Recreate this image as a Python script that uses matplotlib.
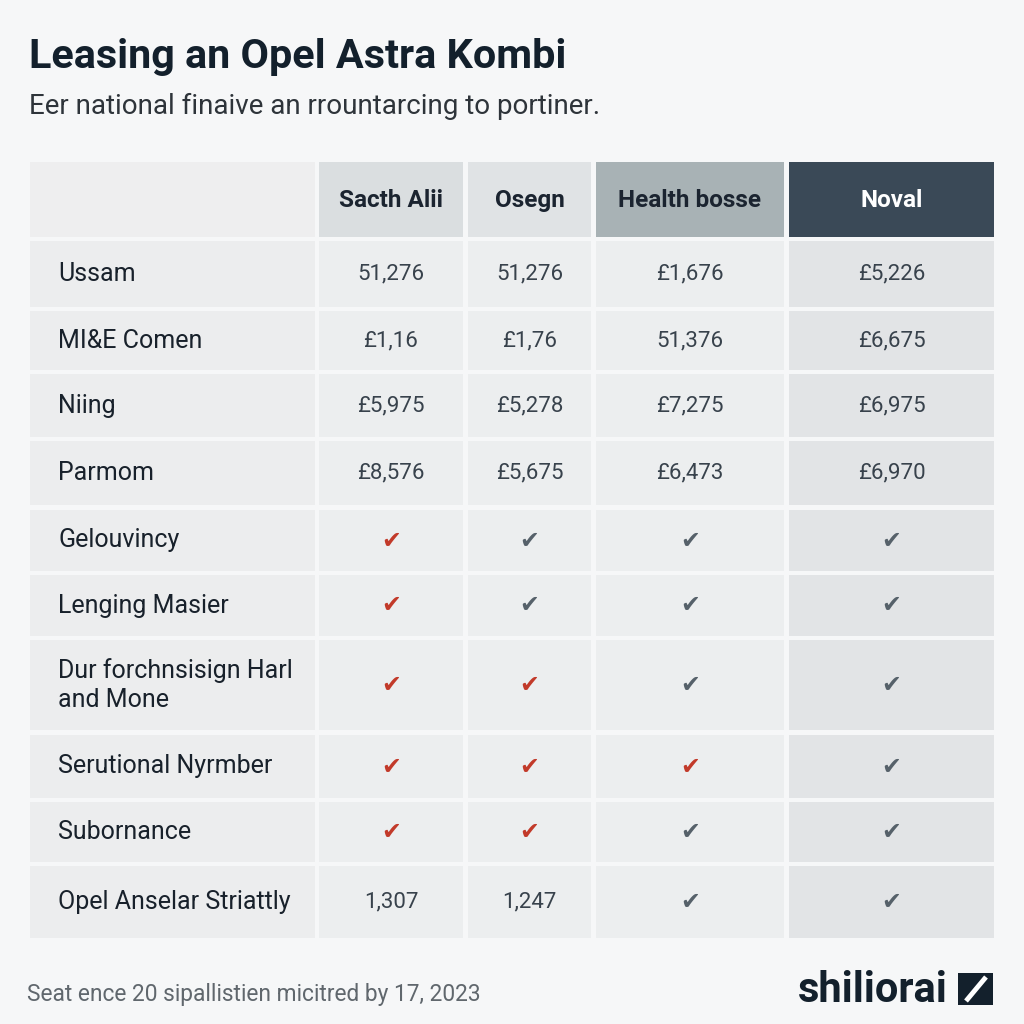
import matplotlib
matplotlib.use("Agg")
import matplotlib.pyplot as plt
from matplotlib.patches import Rectangle

# ---------------- data ----------------
title = "Leasing an Opel Astra Kombi"
subtitle = "Eer national finaive an rrountarcing to portiner."
footnote = "Seat ence 20 sipallistien micitred by 17, 2023"
brand = "shiliorai"

columns = ["Sacth Alii", "Osegn", "Health bosse", "Noval"]
row_labels = [
    "Ussam",
    "MI&E Comen",
    "Niing",
    "Parmom",
    "Gelouvincy",
    "Lenging Masier",
    "Dur forchnsisign Harl\nand Mone",
    "Serutional Nyrmber",
    "Subornance",
    "Opel Anselar Striattly",
]
# "R" = red check, "G" = grey check, otherwise text
col_sacth = ["51,276", "£1,16", "£5,975", "£8,576", "R", "R", "R", "R", "R", "1,307"]
col_osegn = ["51,276", "£1,76", "£5,278", "£5,675", "G", "G", "R", "R", "R", "1,247"]
col_health = ["£1,676", "51,376", "£7,275", "£6,473", "G", "G", "G", "R", "G", "G"]
col_noval = ["£5,226", "£6,675", "£6,975", "£6,970", "G", "G", "G", "G", "G", "G"]
table_cols = [col_sacth, col_osegn, col_health, col_noval]

# ---------------- layout ----------------
FONT = "Roboto"
col_edges = [(30, 315), (319, 463), (468, 591), (596, 784), (789, 994)]
header_span = (162, 237)
row_spans = [(241, 307), (311, 370), (374, 437), (441, 505), (510, 571),
             (575, 636), (640, 730), (735, 798), (802, 862), (866, 938)]
header_colors = ["#eeeeef", "#dadee0", "#e0e3e5", "#a8b2b5", "#3a4957"]
header_text_colors = ["#1b2430", "#1b2430", "#1b2430", "#1b2430", "#ffffff"]
body_colors = ["#ecedee", "#eceeef", "#eceeef", "#eceeef", "#e2e4e6"]
RED = "#c23a2a"
GREY = "#56616a"

fig = plt.figure(figsize=(10.24, 10.24), dpi=100)
fig.patch.set_facecolor("#f6f7f8")
ax = fig.add_axes([0, 0, 1, 1])
ax.set_xlim(0, 1024)
ax.set_ylim(1024, 0)
ax.axis("off")

# title block
ax.text(29, 57, title, fontsize=29.8, fontweight="bold", color="#13202c",
        family=FONT, va="center", ha="left")
ax.text(29, 106, subtitle, fontsize=20, color="#2e343a",
        family=FONT, va="center", ha="left")

# header row
for j, (x0, x1) in enumerate(col_edges):
    y0, y1 = header_span
    ax.add_patch(Rectangle((x0, y0), x1 - x0, y1 - y0,
                           facecolor=header_colors[j], edgecolor="none"))
    if j > 0:
        ax.text((x0 + x1) / 2, (y0 + y1) / 2 + 1, columns[j - 1], fontsize=17.5,
                fontweight="bold", color=header_text_colors[j], family=FONT,
                ha="center", va="center")

# body rows
for i, (y0, y1) in enumerate(row_spans):
    yc = (y0 + y1) / 2
    for j, (x0, x1) in enumerate(col_edges):
        ax.add_patch(Rectangle((x0, y0), x1 - x0, y1 - y0,
                               facecolor=body_colors[j], edgecolor="none"))
    ax.text(58, yc, row_labels[i], fontsize=18, color="#18212b",
            family=FONT, ha="left", va="center", linespacing=1.3)
    for j, col in enumerate(table_cols):
        x0, x1 = col_edges[j + 1]
        xc = (x0 + x1) / 2
        v = col[i]
        if v in ("R", "G"):
            ax.text(xc, yc, "\u2714", fontsize=17,
                    color=RED if v == "R" else GREY,
                    family="DejaVu Sans", ha="center", va="center")
        else:
            ax.text(xc, yc, v, fontsize=16, color="#38424c",
                    family=FONT, ha="center", va="center")

# footer
ax.text(27, 994, footnote, fontsize=16.4, color="#60676d", family=FONT,
        ha="left", va="center")
ax.text(948, 990, brand, fontsize=30, fontweight="bold", color="#13202c",
        family=FONT, ha="right", va="center")
ax.add_patch(Rectangle((958, 973), 35, 32, facecolor="#13202c", edgecolor="none"))
ax.plot([966, 986], [1001, 977], color="white", lw=3.5, solid_capstyle="butt")

fig.savefig("out.png", dpi=100, facecolor=fig.get_facecolor())
